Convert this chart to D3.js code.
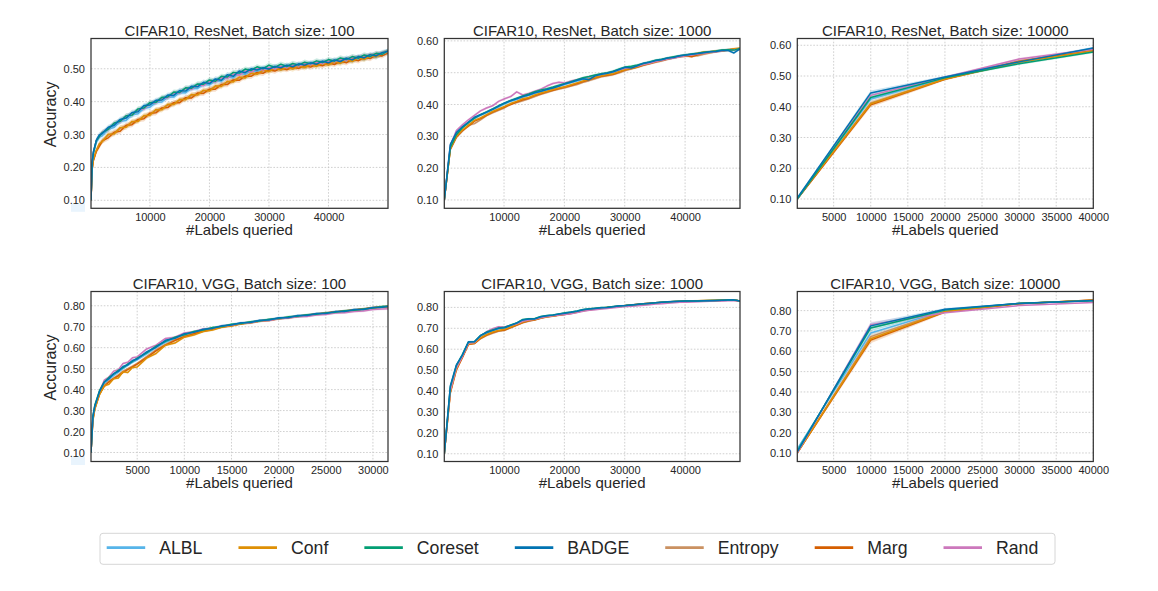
<!DOCTYPE html>
<html><head><meta charset="utf-8">
<script src="https://cdn.jsdelivr.net/npm/d3@7"></script>
<style>body{margin:0;background:#fff}svg{display:block}text{font-family:"Liberation Sans",Arial,sans-serif}</style>
</head><body><svg id="c" width="1158" height="591"></svg>
<script>
// ---------- data (accuracy in thousandths) ----------
const methods = ["ALBL","Conf","Coreset","BADGE","Entropy","Marg","Rand"];
const colors  = ["#56B4E9","#DE8F05","#029E73","#0173B2","#CA9161","#D55E00","#CC78BC"];
const drawOrder = [0,4,5,1,6,2,3];

const resnet100X = [100,300,500,1000,1500,2000,3000,4000,5000,6000,7000,8000,9000,10000,11000,12000,13000,14000,15000,16000,17000,18000,19000,20000,21000,22000,23000,24000,25000,26000,27000,28000,29000,30000,31000,32000,33000,34000,35000,36000,37000,38000,39000,40000,41000,42000,43000,44000,45000,46000,47000,48000,49000,50000];
const resnet100Acc = [
 [100,210,240,276,292,296,316,322,340,343,360,363,380,383,398,399,414,414,428,427,441,440,453,451,464,462,475,473,487,483,495,491,500,497,504,500,508,504,512,508,516,512,520,516,524,520,528,525,534,530,540,536,546,551],
 [100,196,224,252,272,279,301,302,321,322,340,340,358,359,376,375,392,391,407,406,422,420,435,432,448,446,462,460,475,472,487,483,496,491,502,496,505,499,509,503,513,507,517,511,522,516,528,522,534,528,541,536,547,550],
 [100,212,244,281,294,306,316,335,340,357,359,378,381,397,398,413,414,429,428,442,441,454,453,466,462,477,475,489,487,499,495,506,500,511,504,514,507,516,511,520,515,524,519,528,523,533,528,537,532,542,537,547,544,554],
 [100,216,248,283,299,303,322,328,346,350,367,369,388,390,404,405,420,419,434,432,447,445,459,455,469,465,482,477,493,488,500,496,503,499,507,503,511,506,515,511,518,514,523,518,527,522,532,527,537,533,543,539,549,553],
 [100,197,223,251,271,280,299,305,319,326,337,344,355,362,373,379,389,395,404,410,418,424,432,437,445,451,459,465,472,476,485,487,494,495,500,500,504,504,508,508,512,512,516,516,521,521,527,526,533,532,539,540,545,551],
 [100,194,220,249,264,281,290,307,310,328,330,346,348,365,366,381,382,397,397,412,411,426,425,438,438,452,452,466,465,478,477,489,486,497,493,502,497,506,501,510,505,514,509,518,513,523,518,529,524,535,531,542,539,549],
 [100,214,246,282,294,307,315,334,339,356,360,375,378,395,397,410,412,426,426,440,438,451,449,462,460,473,471,484,481,493,490,500,496,504,500,508,504,512,508,516,512,520,516,524,521,529,526,535,532,540,537,546,544,553]
];
const resnet100Band = [8];

const b1000X = [100,1100,2100,3100,4100,5100,6100,7100,8100,9100,10100,11100,12100,13100,14100,15100,16100,17100,18100,19100,20100,21100,22100,23100,24100,25100,26100,27100,28100,29100,30100,31100,32100,33100,34100,35100,36100,37100,38100,39100,40100,41100,42100,43100,44100,45100,46100,47100,48100,49100];
const resnet1000Acc = [
 [100,270,308,328,342,356,366,374,383,392,402,410,416,423,429,435,440,446,451,457,463,469,474,479,484,489,493,497,502,508,514,516,521,527,532,536,540,544,547,551,554,557,559,562,565,567,569,572,573,574],
 [100,262,300,320,335,350,358,368,378,386,394,403,410,418,422,430,436,441,447,452,456,462,468,474,480,486,490,494,497,504,510,514,519,526,530,535,540,545,548,552,555,557,561,565,566,568,569,571,575,577],
 [100,265,305,327,343,357,368,377,386,396,404,413,420,427,433,440,446,450,455,461,466,472,478,484,488,493,497,500,505,512,518,520,524,529,534,539,542,546,550,553,556,559,561,564,566,568,571,572,571,576],
 [100,275,312,330,345,360,368,376,385,395,405,412,418,425,430,437,442,447,452,458,465,470,476,481,478,490,495,498,503,510,517,515,522,530,533,538,541,546,548,553,556,558,560,563,566,567,570,570,562,575],
 [100,258,296,316,335,340,352,365,374,382,390,402,406,412,418,425,432,438,444,449,453,458,463,470,475,481,487,490,494,500,507,512,517,523,528,533,537,542,546,550,552,554,553,558,562,566,569,571,573,575],
 [100,260,298,318,332,348,356,366,376,384,392,400,408,415,420,428,434,440,445,450,455,460,466,472,478,484,489,492,495,502,509,513,518,524,529,534,539,543,548,551,553,550,556,562,564,567,569,572,574,576],
 [100,272,318,336,352,366,380,389,396,410,418,425,440,430,435,442,448,458,466,470,468,474,478,483,487,491,495,499,504,509,514,517,521,526,530,535,539,543,546,550,553,556,559,561,564,566,569,571,572,574]
];
const resnet1000Band = [4];

const b10000X = [100,10000,20000,30000,40000];
const resnet10000Acc = [
 [100,425,493,545,590],
 [102,410,490,545,582],
 [100,430,494,540,578],
 [104,445,497,546,591],
 [100,412,490,550,585],
 [100,406,489,547,583],
 [100,437,496,555,587]
];
const resnet10000Band = [3,8,4,4,4];

const vgg100X = [100,300,500,1000,1500,2000,2500,3000,3500,4000,4500,5000,6000,7000,8000,9000,10000,11000,12000,13000,14000,15000,16000,17000,18000,19000,20000,21000,22000,23000,24000,25000,26000,27000,28000,29000,30000,31000,31600];
const vgg100Acc = [
 [100,262,312,382,424,448,466,483,500,515,530,542,570,600,626,644,659,672,683,692,700,708,715,721,727,733,739,744,749,754,759,764,769,773,778,783,788,792,794],
 [100,250,305,375,418,425,452,455,485,482,505,508,550,572,612,622,650,660,677,684,699,703,714,718,727,730,739,742,750,753,761,763,770,773,780,783,790,793,797],
 [100,275,325,395,436,458,474,492,505,522,534,550,575,607,630,650,662,677,684,696,701,712,715,724,727,736,739,747,750,757,760,766,769,776,779,785,789,796,798],
 [100,270,320,390,435,452,476,487,510,518,539,546,580,602,635,645,667,673,688,692,705,708,719,720,731,732,743,743,753,753,763,763,772,772,782,782,792,793,796],
 [100,258,310,380,420,440,455,470,488,500,512,525,558,590,616,638,655,668,680,690,700,707,714,721,727,733,739,744,750,755,761,765,770,775,780,784,789,793,795],
 [100,255,308,378,415,436,452,466,482,495,508,522,552,585,612,634,652,666,678,688,698,706,714,720,727,732,738,744,749,755,760,765,770,775,780,785,790,795,797],
 [100,268,322,392,445,460,488,495,525,530,552,556,594,612,644,650,670,676,689,693,704,707,716,719,727,730,738,741,747,749,756,758,765,767,773,775,782,784,786]
];
const vgg100Band = [6];

const vgg1000Acc = [
 [100,410,515,570,630,634,660,676,688,697,702,712,722,735,742,745,752,758,762,766,770,775,780,786,790,793,796,799,802,806,808,811,813,816,819,821,823,825,827,828,829,830,831,831,832,833,833,834,835,831],
 [100,395,505,565,625,630,655,670,682,690,695,706,718,730,738,742,750,756,760,764,768,773,779,786,790,794,797,800,803,806,809,812,815,818,820,822,824,826,828,829,830,831,832,833,833,834,835,835,836,831],
 [100,420,522,575,635,637,665,682,692,702,705,716,726,742,746,747,757,761,764,769,774,778,783,790,793,796,799,801,804,807,809,812,814,817,819,822,824,826,828,829,830,831,831,832,833,833,834,835,836,831],
 [100,425,525,572,636,636,666,680,690,700,703,714,725,740,745,745,755,760,763,768,772,777,782,789,792,795,798,800,803,808,809,812,815,817,820,822,825,827,828,829,830,830,831,832,832,833,834,835,836,830],
 [100,398,508,562,626,626,650,665,676,686,690,702,714,726,734,740,748,754,758,762,766,771,777,784,788,792,795,798,801,804,807,810,813,816,818,820,822,824,826,827,828,829,830,831,832,832,833,834,834,829],
 [100,390,500,560,622,628,652,668,680,688,692,704,716,728,736,741,749,755,759,763,767,772,778,785,789,793,796,799,802,805,808,811,814,817,819,821,823,825,827,828,829,830,831,832,833,833,834,835,835,830],
 [100,400,510,565,628,632,662,684,698,708,706,715,722,734,740,743,751,756,760,763,766,770,775,782,786,789,792,795,798,801,804,806,808,810,813,816,818,820,822,824,825,826,827,828,829,830,831,832,833,830]
];
const vgg1000Band = [4];

const vgg10000Acc = [
 [120,690,800,835,850],
 [100,662,795,835,851],
 [110,715,803,836,849],
 [105,725,807,835,850],
 [100,672,797,834,852],
 [100,655,793,834,852],
 [100,730,790,825,840]
];
const vgg10000Band = [5,15,6,3,3];

const titles = ["CIFAR10, ResNet, Batch size: 100","CIFAR10, ResNet, Batch size: 1000","CIFAR10, ResNet, Batch size: 10000",
                "CIFAR10, VGG, Batch size: 100","CIFAR10, VGG, Batch size: 1000","CIFAR10, VGG, Batch size: 10000"];
const xTicks100R = [10000,20000,30000,40000];
const xTicks1000 = [10000,20000,30000,40000];
const xTicks10000 = [5000,10000,15000,20000,25000,30000,35000,40000];
const xTicks100V = [5000,10000,15000,20000,25000,30000];
const yTicksR100 = [0.1,0.2,0.3,0.4,0.5];
const yTicksR = [0.1,0.2,0.3,0.4,0.5,0.6];
const yTicksV = [0.1,0.2,0.3,0.4,0.5,0.6,0.7,0.8];

const panels = [
 {title:titles[0], x:resnet100X, acc:resnet100Acc, band:resnet100Band, xd:[100,50000], yd:[0.0757,0.592], xt:xTicks100R, yt:yTicksR100, col:0, row:0},
 {title:titles[1], x:b1000X, acc:resnet1000Acc, band:resnet1000Band, xd:[100,49100], yd:[0.0738,0.6075], xt:xTicks1000, yt:yTicksR, col:1, row:0},
 {title:titles[2], x:b10000X, acc:resnet10000Acc, band:resnet10000Band, xd:[100,40000], yd:[0.0697,0.622], xt:xTicks10000, yt:yTicksR, col:2, row:0},
 {title:titles[3], x:vgg100X, acc:vgg100Acc, band:vgg100Band, xd:[100,31600], yd:[0.057,0.868], xt:xTicks100V, yt:yTicksV, col:0, row:1},
 {title:titles[4], x:b1000X, acc:vgg1000Acc, band:vgg1000Band, xd:[100,49100], yd:[0.063,0.876], xt:xTicks1000, yt:yTicksV, col:1, row:1},
 {title:titles[5], x:b10000X, acc:vgg10000Acc, band:vgg10000Band, xd:[100,40000], yd:[0.058,0.894], xt:xTicks10000, yt:yTicksV, col:2, row:1}
];

// ---------- layout ----------
const colL = [91, 444.3, 797.3], colR = [388, 740, 1093.3];
const rowT = [38.5, 291.5], rowB = [208.3, 461.5];
const svg = d3.select("#c");
const txt = "#262626";

panels.forEach((p, pi) => {
  const L = colL[p.col], R = colR[p.col], T = rowT[p.row], B = rowB[p.row];
  const x = d3.scaleLinear().domain(p.xd).range([L, R]);
  const y = d3.scaleLinear().domain(p.yd).range([B, T]);
  const g = svg.append("g");
  const cid = "clip" + pi;
  svg.append("clipPath").attr("id", cid).append("rect").attr("x", L).attr("y", T).attr("width", R - L).attr("height", B - T);

  if (p.col === 0) {
    g.append("rect").attr("x", 71).attr("y", B - 5).attr("width", 14).attr("height", 8.5).attr("fill", "#e9f4fd");
  }
  // grid
  g.append("g").selectAll("line").data(p.xt).join("line")
    .attr("x1", d => x(d)).attr("x2", d => x(d)).attr("y1", T).attr("y2", B)
    .attr("stroke", "#c4c4c4").attr("stroke-width", 0.8).attr("stroke-dasharray", "1.6,1.6");
  g.append("g").selectAll("line").data(p.yt).join("line")
    .attr("y1", d => y(d)).attr("y2", d => y(d)).attr("x1", L).attr("x2", R)
    .attr("stroke", "#c4c4c4").attr("stroke-width", 0.8).attr("stroke-dasharray", "1.6,1.6");

  const plot = g.append("g").attr("clip-path", `url(#${cid})`);
  const bw = i => (p.band.length === 1 ? p.band[0] : p.band[i]);
  drawOrder.forEach(si => {
    const vals = p.acc[si];
    const pts = vals.map((v, i) => [p.x[i], v, bw(i)]);
    plot.append("path").datum(pts)
      .attr("d", d3.area().x(d => x(d[0])).y0(d => y((d[1] - d[2]) / 1000)).y1(d => y((d[1] + d[2]) / 1000)))
      .attr("fill", colors[si]).attr("fill-opacity", 0.2);
  });
  drawOrder.forEach(si => {
    const vals = p.acc[si];
    const pts = vals.map((v, i) => [p.x[i], v]);
    plot.append("path").datum(pts)
      .attr("d", d3.line().x(d => x(d[0])).y(d => y(d[1] / 1000)))
      .attr("fill", "none").attr("stroke", colors[si]).attr("stroke-width", 1.5).attr("stroke-linejoin", "round");
  });

  // frame
  g.append("rect").attr("x", L).attr("y", T).attr("width", R - L).attr("height", B - T)
    .attr("fill", "none").attr("stroke", "#333").attr("stroke-width", 1.25);

  // axes
  const ax = g.append("g").attr("transform", `translate(0,${B})`)
    .call(d3.axisBottom(x).tickValues(p.xt).tickSize(0).tickPadding(5).tickFormat(d3.format("d")));
  ax.select(".domain").remove();
  ax.selectAll("text").attr("font-size", 11).attr("fill", txt).style("font-family", '"Liberation Sans",Arial,sans-serif');
  const ay = g.append("g").attr("transform", `translate(${L},0)`)
    .call(d3.axisLeft(y).tickValues(p.yt).tickSize(0).tickPadding(6).tickFormat(d3.format(".2f")));
  ay.select(".domain").remove();
  ay.selectAll("text").attr("font-size", 11).attr("fill", txt).style("font-family", '"Liberation Sans",Arial,sans-serif');

  // labels
  g.append("text").attr("x", (L + R) / 2).attr("y", T - 2.5).attr("text-anchor", "middle")
    .attr("font-size", 15).attr("fill", txt).text(p.title);
  g.append("text").attr("x", (L + R) / 2).attr("y", B + 26.5).attr("text-anchor", "middle")
    .attr("font-size", 15).attr("fill", txt).text("#Labels queried");
  if (p.col === 0) {
    const cy = (T + B) / 2 - 9;
    g.append("text").attr("transform", `translate(55.5,${cy}) rotate(-90)`).attr("text-anchor", "middle")
      .attr("font-size", 16).attr("fill", txt).text("Accuracy");
  }
});

// ---------- legend ----------
const lg = svg.append("g");
lg.append("rect").attr("x", 100).attr("y", 533.3).attr("width", 955).attr("height", 31).attr("rx", 3)
  .attr("fill", "#fff").attr("stroke", "#d6d6d6").attr("stroke-width", 1);
let lx = 106.7;
methods.forEach((m, i) => {
  lg.append("line").attr("x1", lx).attr("x2", lx + 38.5).attr("y1", 547.7).attr("y2", 547.7)
    .attr("stroke", colors[i]).attr("stroke-width", 2.7);
  const t = lg.append("text").attr("x", lx + 52.5).attr("y", 554).attr("font-size", 17.7).attr("fill", txt).text(m);
  lx = lx + 52.5 + t.node().getComputedTextLength() + 36;
});
</script></body></html>
